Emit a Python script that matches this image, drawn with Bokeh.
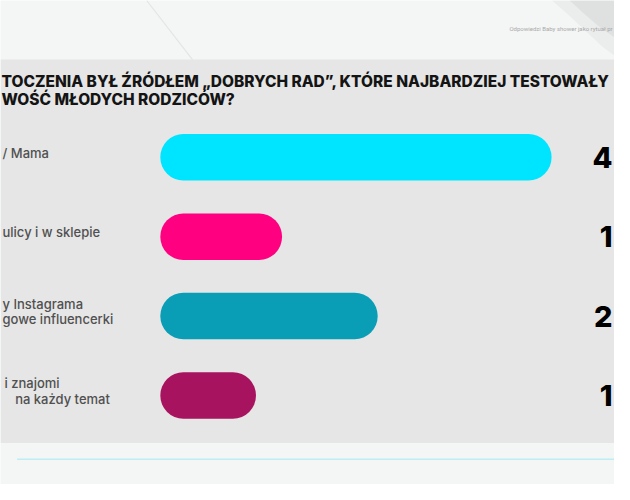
from bokeh.plotting import figure
from bokeh.models import Range1d, BoxAnnotation, ColumnDataSource
from bokeh.core.properties import value
from bokeh.embed import file_html
from bokeh.resources import INLINE

# ---------------- data ----------------
label_line1 = ["/ Mama", "ulicy i w sklepie", "y Instagrama", "i znajomi"]
label_line2 = ["", "", "gowe influencerki", "na każdy temat"]
label_line1_indent = [0, 0, 0, 2]
label_line2_indent = [0, 0, 0, 13]
values = [45, 14, 25, 11]
value_labels_visible = ["4", "1", "2", "1"]
bar_colors = ["#00E5FF", "#FF0080", "#0A9DB6", "#A8135F"]
title_lines = ["TOCZENIA BYŁ ŹRÓDŁEM „DOBRYCH RAD”, KTÓRE NAJBARDZIEJ TESTOWAŁY",
               "WOŚĆ MŁODYCH RODZICÓW?"]
header_note = "Odpowiedzi Baby shower jako rytuał pr"

# ---------------- layout ----------------
W, H = 614, 484
REF_W, REF_H = 630, 500
SX, SY = W / REF_W, H / REF_H
BAR_X0 = 164          # reference px where value 0 sits
PX_PER_UNIT = 8.92    # reference px per value unit
ROW0, ROW_STEP = 162, 82


def xr(px):
    return (px - BAR_X0) / PX_PER_UNIT


def yr(py):
    return (ROW0 - py) / ROW_STEP


p = figure(width=W, height=H, x_range=Range1d(xr(0), xr(REF_W)),
           y_range=Range1d(yr(REF_H), yr(0)),
           output_backend="svg", toolbar_location=None,
           x_axis_location=None, y_axis_location=None,
           min_border=0, outline_line_color=None,
           background_fill_color="#F4F5F5", border_fill_color="#F4F5F5")
p.grid.visible = False

# grey panel
p.add_layout(BoxAnnotation(top=yr(61), bottom=yr(457), fill_color="#E6E6E6",
                           fill_alpha=1, line_color=None, level="underlay"))

# decorations in header
p.line(x=[xr(150), xr(197)], y=[yr(0), yr(61)], line_color="#E3E4E4", line_width=1.2)
p.patch(x=[xr(v) for v in (566, 584, 602, 618, 630, 630)],
        y=[yr(v) for v in (0, 16, 33, 48, 57, 0)], fill_color="#EBECEC", line_color=None)
p.patch(x=[xr(v) for v in (584, 598, 613, 630, 630)],
        y=[yr(v) for v in (0, 13, 26, 38, 0)], fill_color="#DFE0E0", line_color=None)
p.text(x=[xr(628)], y=[yr(29)], text=[header_note], text_font=value("Roboto"),
       text_font_size="6px", text_color="#A9AAAA", text_baseline="middle",
       text_align="right")

# bottom line
p.line(x=[xr(17), xr(REF_W)], y=[yr(474), yr(474)], line_color="#BDEEF4", line_width=1.5)

# title
p.text(x=[xr(0)] * 2, y=[yr(84), yr(102)], text=title_lines, x_offset=1,
       text_font=value("'Inter ExtraBold', Inter"),
       text_font_style="bold", text_font_size="15.5px", text_color="#141414",
       text_baseline="middle")

ys = [-i for i in range(len(values))]
src = ColumnDataSource(dict(y=ys, v=values, c=bar_colors,
                            l1=label_line1, l2=label_line2,
                            o1=[2 + o * SX for o in label_line1_indent],
                            o2=[2 + o * SX for o in label_line2_indent],
                            lab=value_labels_visible))

p.hbar(y="y", left=0, right="v", height=48 / ROW_STEP, fill_color="c",
       line_color=None, border_radius=23, source=src)

# category labels (one or two lines)
d = 4.5 / ROW_STEP
src.data["l1y"] = [y + d + (8 / ROW_STEP if s else 0) for y, s in zip(ys, label_line2)]
src.data["l2y"] = [y + d - 8 / ROW_STEP for y in ys]
for col, off in (("l1", "o1"), ("l2", "o2")):
    p.text(x=xr(0), y=col + "y", text=col, x_offset=off, source=src,
           text_font=value("'Inter Medium', Inter"),
           text_font_size="13px", text_color="#505050", text_baseline="middle")

# value labels (only the part visible in the reference)
p.text(x=xr(REF_W), y="y", text="lab", source=src, x_offset=-2,
       text_font=value("'Inter ExtraBold', Inter"),
       text_font_style="bold", text_font_size="29px", text_color="#000000",
       text_baseline="middle", text_align="right")

open("out.html", "w").write(file_html(p, INLINE))
